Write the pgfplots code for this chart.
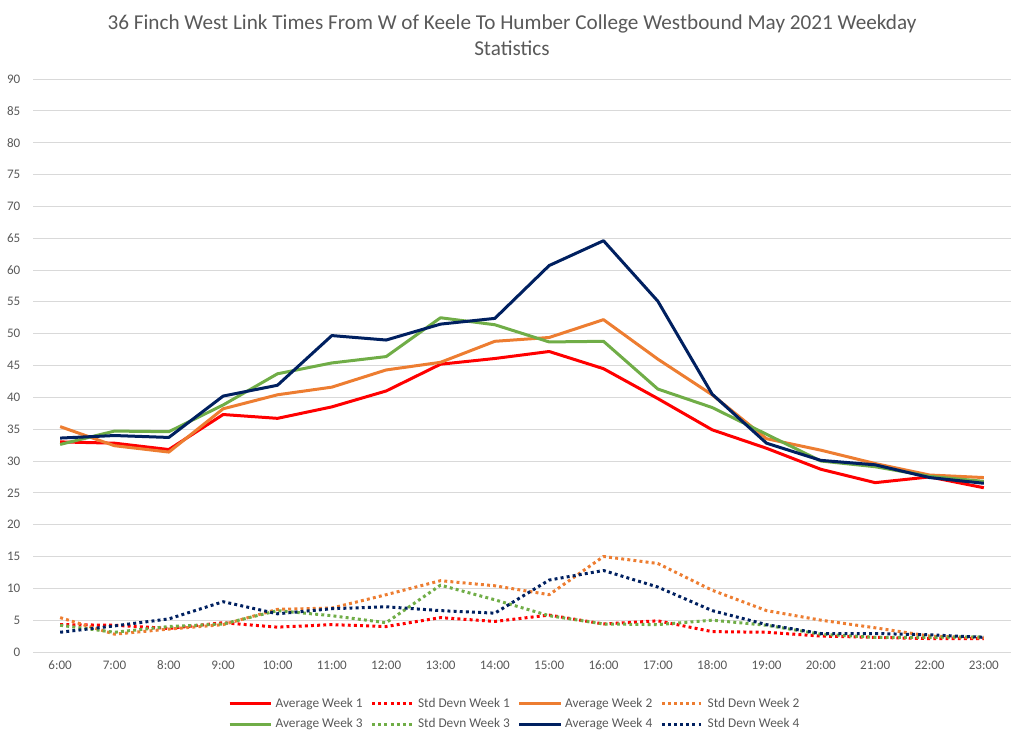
\documentclass[border=0pt]{standalone}
\usepackage{pgfplots}
\pgfplotsset{compat=1.18}
\usepackage{fontspec}
\setmainfont{Carlito}
\definecolor{cRed}{RGB}{255,0,0}
\definecolor{cOrange}{RGB}{237,125,49}
\definecolor{cGreen}{RGB}{112,173,71}
\definecolor{cNavy}{RGB}{0,32,96}
\definecolor{cGrid}{RGB}{217,217,217}
\definecolor{cText}{RGB}{89,89,89}
\begin{document}
\begin{tikzpicture}
\path[use as bounding box] (0,0) rectangle (768pt,556.5pt);
\node[text=cText, font=\fontsize{15.9}{19.5}\selectfont, align=center] at (384pt,530pt) {36 Finch West Link Times From W of Keele To Humber College Westbound May 2021 Weekday\\Statistics};
\begin{axis}[
  at={(24.75pt,67.5pt)}, anchor=south west,
  width=733.5pt, height=429.75pt, scale only axis,
  xmin=-0.5, xmax=17.5, ymin=0, ymax=90,
  xtick={0,...,17},
  xticklabels={6:00,7:00,8:00,9:00,10:00,11:00,12:00,13:00,14:00,15:00,16:00,17:00,18:00,19:00,20:00,21:00,22:00,23:00},
  ytick={0,5,...,90},
  ymajorgrids, grid style={cGrid, line width=0.75pt},
  axis x line*=bottom, axis y line*=left,
  x axis line style={cGrid, line width=0.75pt, -},
  y axis line style={draw=none},
  major tick length=0pt,
  tick label style={text=cText, font=\fontsize{9.8}{11}\selectfont},
  /pgf/number format/assume math mode=true,
  xticklabel style={yshift=-3pt},
  yticklabel style={xshift=-6pt},
  clip=false,
  legend columns=4,
  legend style={at={(0.493,-0.108)}, anchor=center, draw=none, fill=none,
    font=\fontsize{10}{12}\selectfont, text=cText,
    /tikz/every even column/.append style={column sep=4pt},
    /tikz/every odd column/.append style={column sep=0pt},
    row sep=3pt},
  legend image code/.code={\draw[#1] (0cm,0cm) -- (1.1cm,0cm);},
  every axis plot/.append style={line width=2.25pt, mark=none, line join=round},
]
\addplot[cRed] coordinates {(0,33.0)(1,32.8)(2,31.8)(3,37.3)(4,36.7)(5,38.5)(6,41.0)(7,45.2)(8,46.1)(9,47.2)(10,44.5)(11,39.8)(12,34.9)(13,32.0)(14,28.7)(15,26.6)(16,27.5)(17,25.8)};
\addlegendentry{Average Week 1}
\addplot[cRed, dash pattern=on 2.2pt off 2.4pt] coordinates {(0,4.3)(1,4.2)(2,3.7)(3,4.6)(4,3.9)(5,4.3)(6,4.0)(7,5.4)(8,4.8)(9,5.8)(10,4.4)(11,4.9)(12,3.2)(13,3.1)(14,2.5)(15,2.3)(16,2.1)(17,2.1)};
\addlegendentry{Std Devn Week 1}
\addplot[cOrange] coordinates {(0,35.4)(1,32.4)(2,31.4)(3,38.2)(4,40.4)(5,41.6)(6,44.3)(7,45.5)(8,48.8)(9,49.4)(10,52.2)(11,46.0)(12,40.4)(13,33.5)(14,31.7)(15,29.6)(16,27.8)(17,27.4)};
\addlegendentry{Average Week 2}
\addplot[cOrange, dash pattern=on 2.2pt off 2.4pt] coordinates {(0,5.4)(1,2.8)(2,3.6)(3,4.3)(4,6.7)(5,6.9)(6,9.0)(7,11.2)(8,10.4)(9,9.0)(10,15.0)(11,13.9)(12,9.7)(13,6.5)(14,5.0)(15,3.8)(16,2.5)(17,2.2)};
\addlegendentry{Std Devn Week 2}
\addplot[cGreen] coordinates {(0,32.6)(1,34.7)(2,34.6)(3,38.8)(4,43.7)(5,45.4)(6,46.4)(7,52.5)(8,51.4)(9,48.7)(10,48.8)(11,41.3)(12,38.4)(13,34.2)(14,30.0)(15,29.1)(16,27.6)(17,26.8)};
\addlegendentry{Average Week 3}
\addplot[cGreen, dash pattern=on 2.2pt off 2.4pt] coordinates {(0,4.2)(1,3.1)(2,4.0)(3,4.4)(4,6.5)(5,5.7)(6,4.6)(7,10.5)(8,8.2)(9,5.7)(10,4.4)(11,4.3)(12,5.0)(13,4.2)(14,2.8)(15,2.3)(16,2.3)(17,2.4)};
\addlegendentry{Std Devn Week 3}
\addplot[cNavy] coordinates {(0,33.6)(1,34.0)(2,33.7)(3,40.2)(4,41.9)(5,49.7)(6,49.0)(7,51.5)(8,52.4)(9,60.7)(10,64.6)(11,55.1)(12,40.5)(13,32.8)(14,30.1)(15,29.4)(16,27.4)(17,26.5)};
\addlegendentry{Average Week 4}
\addplot[cNavy, dash pattern=on 2.2pt off 2.4pt] coordinates {(0,3.1)(1,4.1)(2,5.2)(3,7.9)(4,6.0)(5,6.8)(6,7.1)(7,6.5)(8,6.1)(9,11.3)(10,12.8)(11,10.2)(12,6.5)(13,4.3)(14,2.9)(15,2.9)(16,2.7)(17,2.3)};
\addlegendentry{Std Devn Week 4}
\end{axis}
\end{tikzpicture}
\end{document}
